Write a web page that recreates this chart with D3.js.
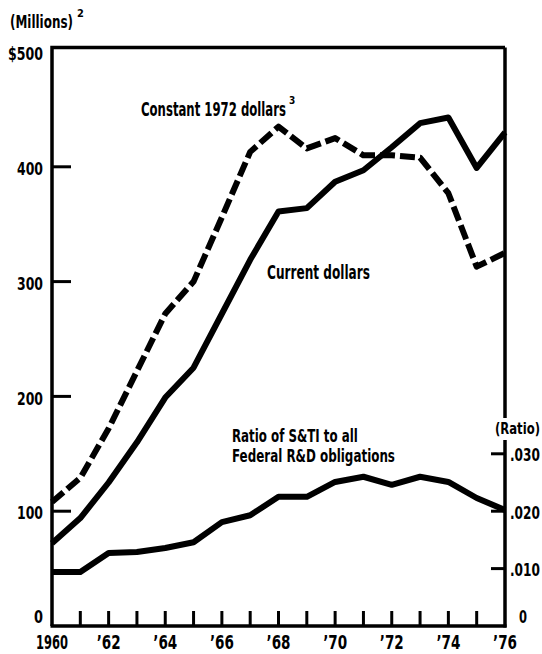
<!DOCTYPE html>
<html>
<head>
<meta charset="utf-8">
<script src="https://cdn.jsdelivr.net/npm/d3@7"></script>
<style>
  html, body { margin: 0; padding: 0; background: #fff; }
  svg { display: block; }
  text { font-family: "DejaVu Sans Condensed", "Liberation Sans Narrow", "DejaVu Sans", sans-serif; font-weight: bold; fill: #000; }
</style>
</head>
<body>
<div id="chart"></div>
<script>
// Federal obligations for scientific and technical information, 1960-76
const years = d3.range(1960, 1977);
const currentDollars = [72, 94, 125, 160, 199, 225, 272, 319, 361, 364, 387, 397, 417, 438, 443, 399, 430];
const constantDollars = [108, 129, 172, 222, 272, 300, 356, 413, 435, 416, 425, 410, 410, 408, 377, 313, 325];
const ratioToRD = [0.0094, 0.0094, 0.0127, 0.0129, 0.0136, 0.0146, 0.0181, 0.0193, 0.0225, 0.0225, 0.0251, 0.0260, 0.0246, 0.0260, 0.0251, 0.0223, 0.0202];

const leftTicks = [0, 100, 200, 300, 400, 500];
const leftTickLabels = ["0", "100", "200", "300", "400", "$500"];
const rightTicks = [0, 0.010, 0.020, 0.030];
const rightTickLabels = ["0", ".010", ".020", ".030"];
const yearTicks = d3.range(1961, 1976);
const yearLabelYears = [1960, 1962, 1964, 1966, 1968, 1970, 1972, 1974, 1976];
const yearLabels = ["1960", "’62", "’64", "’66", "’68", "’70", "’72", "’74", "’76"];

const W = 542, H = 654;
const svg = d3.select("#chart").append("svg").attr("width", W).attr("height", H);

const x = d3.scaleLinear().domain([1960, 1976]).range([52, 505]);
const y = d3.scaleLinear().domain([0, 500]).range([626, 52]);
const yRatio = d3.scaleLinear().domain([0, 0.1]).range([626, 52]);
const topValue = 504;

// condensed label: drawn at its natural size, then squeezed horizontally to a set width
function label(parent, px, py, str, size, width, anchor = "start", dy = "0") {
  const t = parent.append("text")
    .attr("font-size", size)
    .attr("dy", dy)
    .text(str);
  const natural = t.node().getComputedTextLength();
  const s = width / natural;
  const left = anchor === "middle" ? px - width / 2 : (anchor === "end" ? px - width : px);
  t.attr("transform", `translate(${left},${py}) scale(${s},1)`);
  return t;
}

// frame: left axis, top rule, bottom axis
const frame = svg.append("g").attr("stroke", "#000").attr("fill", "none");
frame.append("path")
  .attr("d", `M${x(1960)},${y(0)}V${y(topValue)}H${x(1976)}`)
  .attr("stroke-width", 3.5);
frame.append("line")
  .attr("x1", x(1960) - 1.5).attr("x2", x(1976) + 1.5)
  .attr("y1", y(0)).attr("y2", y(0))
  .attr("stroke-width", 3.5);
// right axis, broken where its title sits
frame.append("line")
  .attr("x1", x(1976)).attr("x2", x(1976))
  .attr("y1", y(topValue)).attr("y2", 418)
  .attr("stroke-width", 3.5);
frame.append("line")
  .attr("x1", x(1976)).attr("x2", x(1976))
  .attr("y1", 440).attr("y2", y(0) + 1.5)
  .attr("stroke-width", 3.5);

// left ticks and labels
svg.append("g").selectAll("line")
  .data(leftTicks.filter(d => d > 0 && d < 500))
  .join("line")
  .attr("x1", x(1960)).attr("x2", x(1960) + 19)
  .attr("y1", d => y(d)).attr("y2", d => y(d))
  .attr("stroke", "#000").attr("stroke-width", 3);
const leftLabels = svg.append("g");
leftTicks.forEach((d, i) => {
  const w = d === 500 ? 35 : (d === 0 ? 9 : 26);
  label(leftLabels, 43, d === 0 ? y(d) - 9 : y(d) + 2, leftTickLabels[i], 17, w, "end", "0.36em");
});

// right ticks and labels
svg.append("g").selectAll("line")
  .data(rightTicks.filter(d => d > 0))
  .join("line")
  .attr("x1", x(1976) - 14).attr("x2", x(1976))
  .attr("y1", d => yRatio(d)).attr("y2", d => yRatio(d))
  .attr("stroke", "#000").attr("stroke-width", 3);
const rightLabels = svg.append("g");
rightTicks.forEach((d, i) => {
  label(rightLabels, d === 0 ? 519 : 510, d === 0 ? yRatio(d) - 9 : yRatio(d) + 1,
    rightTickLabels[i], 18, d === 0 ? 8 : 30, "start", "0.36em");
});
label(svg, 495, 429, "(Ratio)", 15, 45, "start", "0.36em");

// year ticks and labels
svg.append("g").selectAll("line")
  .data(yearTicks)
  .join("line")
  .attr("x1", d => x(d)).attr("x2", d => x(d))
  .attr("y1", y(0)).attr("y2", y(0) - 15)
  .attr("stroke", "#000").attr("stroke-width", 3);
const yearLabelG = svg.append("g");
yearLabelYears.forEach((d, i) => {
  label(yearLabelG, x(d), 649, yearLabels[i], 19, d === 1960 ? 32 : 24, "middle");
});

// unit label
label(svg, 10, 28, "(Millions)", 17, 63);
svg.append("text").attr("x", 77).attr("y", 17).attr("font-size", 11).text("2");

// series
const line = (scale, values) => d3.line()
  .x((d, i) => x(years[i]))
  .y(d => scale(d))(values);

svg.append("path")
  .attr("d", line(yRatio, ratioToRD))
  .attr("fill", "none").attr("stroke", "#000")
  .attr("stroke-width", 6).attr("stroke-linejoin", "round");

svg.append("path")
  .attr("d", line(y, currentDollars))
  .attr("fill", "none").attr("stroke", "#000")
  .attr("stroke-width", 6).attr("stroke-linejoin", "round");

svg.append("path")
  .attr("d", line(y, constantDollars))
  .attr("fill", "none").attr("stroke", "#000")
  .attr("stroke-width", 6).attr("stroke-linejoin", "round")
  .attr("stroke-dasharray", "15,5");

// series labels
label(svg, 141, 116, "Constant 1972 dollars", 19, 145);
svg.append("text").attr("x", 289).attr("y", 104).attr("font-size", 10).text("3");

label(svg, 267, 279, "Current dollars", 19, 103);

label(svg, 232, 442, "Ratio of S&TI to all", 18, 126);
label(svg, 232, 462, "Federal R&D obligations", 18, 163);
</script>
</body>
</html>
